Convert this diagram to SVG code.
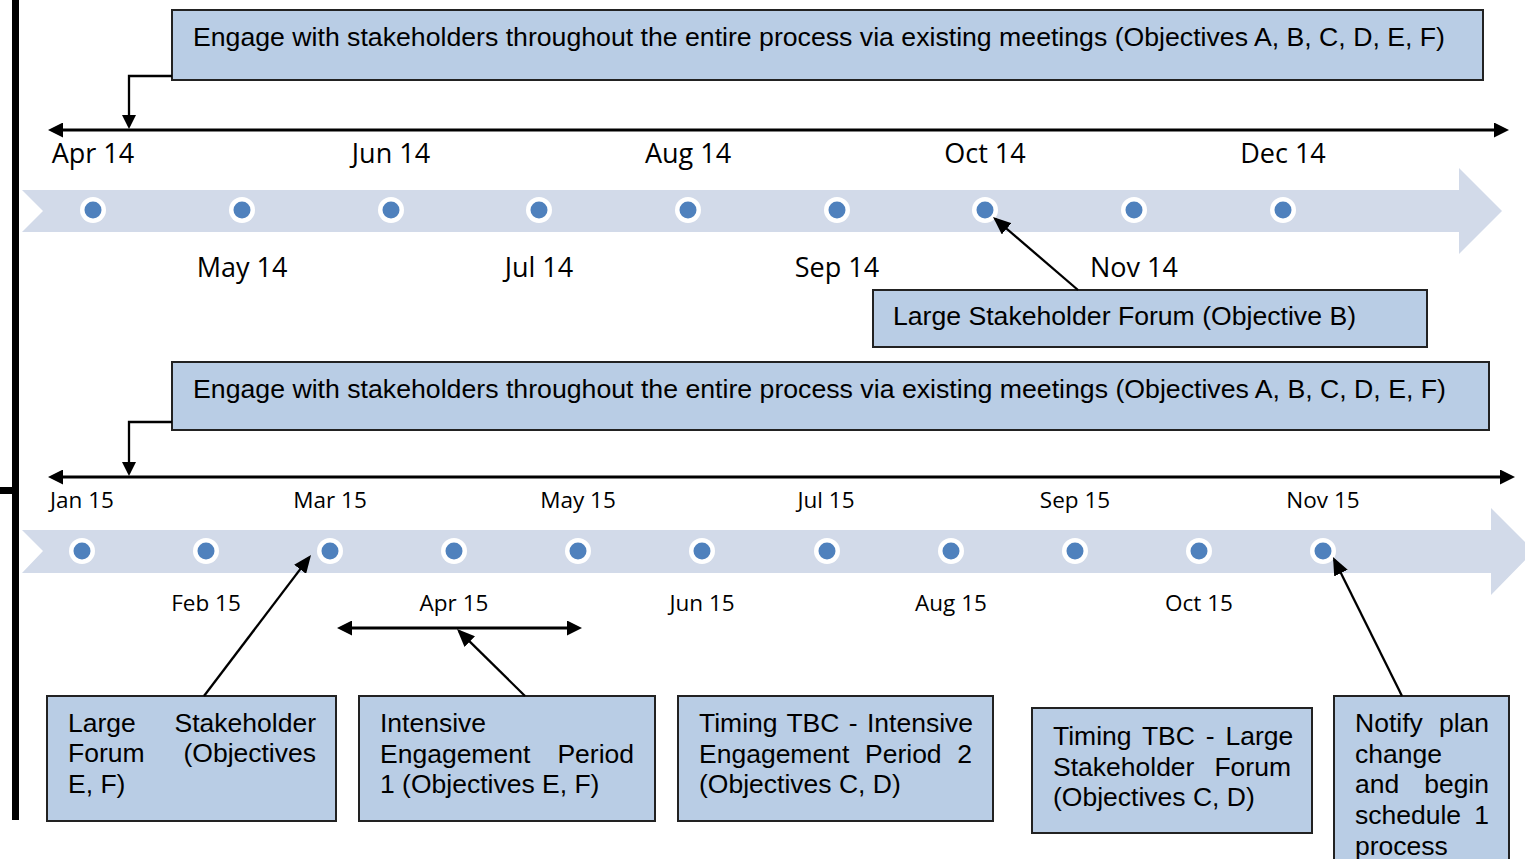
<svg xmlns="http://www.w3.org/2000/svg" width="1525" height="859" viewBox="0 0 1525 859">
  <style>
    .box { fill: #b9cde5; stroke: #222222; stroke-width: 2; }
    .band { fill: #d2dae9; }
    .ring { fill: #ffffff; }
    .dot { fill: #4f81bd; }
    .axis { stroke: #000000; stroke-width: 3.2; fill: none; }
    .conn { stroke: #000000; stroke-width: 2.3; fill: none; }
    .mon { font-family: "Open Sans", "Noto Sans", sans-serif; fill: #000000; text-anchor: middle; }
    .m1 { font-size: 27px; }
    .m2 { font-size: 22.5px; }
    .txt { font-family: "Liberation Sans", Arial, sans-serif; font-size: 26.5px; fill: #000000; }
    .end { text-anchor: end; }
  </style>
  <defs>
    <marker id="headAxis" markerUnits="userSpaceOnUse" markerWidth="15" markerHeight="15" refX="11" refY="7.5" orient="auto-start-reverse">
      <path d="M0,0 L15,7.5 L0,15 Z" fill="#000000"/>
    </marker>
    <marker id="headDrop" markerUnits="userSpaceOnUse" markerWidth="14" markerHeight="14" refX="11" refY="7" orient="auto">
      <path d="M0,0 L14,7 L0,14 Z" fill="#000000"/>
    </marker>
    <marker id="headPoint" markerUnits="userSpaceOnUse" markerWidth="18" markerHeight="15" refX="15" refY="7.5" orient="auto">
      <path d="M0,0 L18,7.5 L0,15 Z" fill="#000000"/>
    </marker>
  </defs>

  <!-- page frame bar on the left -->
  <g id="frame">
    <rect x="12" y="0" width="7" height="820" fill="#000000"/>
    <rect x="0" y="487" width="12" height="7" fill="#000000"/>
  </g>

  <!-- 2014 timeline -->
  <g id="timeline-2014">
    <path class="band" d="M22,190 L1459,190 L1459,168 L1502,211 L1459,254 L1459,232 L22,232 L43,211 Z"/>
    <g>
      <circle class="ring" cx="93" cy="210" r="13"/><circle class="dot" cx="93" cy="210" r="8.5"/>
      <circle class="ring" cx="242" cy="210" r="13"/><circle class="dot" cx="242" cy="210" r="8.5"/>
      <circle class="ring" cx="391" cy="210" r="13"/><circle class="dot" cx="391" cy="210" r="8.5"/>
      <circle class="ring" cx="539" cy="210" r="13"/><circle class="dot" cx="539" cy="210" r="8.5"/>
      <circle class="ring" cx="688" cy="210" r="13"/><circle class="dot" cx="688" cy="210" r="8.5"/>
      <circle class="ring" cx="837" cy="210" r="13"/><circle class="dot" cx="837" cy="210" r="8.5"/>
      <circle class="ring" cx="985" cy="210" r="13"/><circle class="dot" cx="985" cy="210" r="8.5"/>
      <circle class="ring" cx="1134" cy="210" r="13"/><circle class="dot" cx="1134" cy="210" r="8.5"/>
      <circle class="ring" cx="1283" cy="210" r="13"/><circle class="dot" cx="1283" cy="210" r="8.5"/>
    </g>
    <g class="mon m1">
      <text x="93" y="163">Apr 14</text>
      <text x="391" y="163">Jun 14</text>
      <text x="688" y="163">Aug 14</text>
      <text x="985" y="163">Oct 14</text>
      <text x="1283" y="163">Dec 14</text>
      <text x="242" y="277">May 14</text>
      <text x="539" y="277">Jul 14</text>
      <text x="837" y="277">Sep 14</text>
      <text x="1134" y="277">Nov 14</text>
    </g>
  </g>

  <!-- 2015 timeline -->
  <g id="timeline-2015">
    <path class="band" d="M22,530 L1491,530 L1491,508 L1534,551 L1491,595 L1491,573 L22,573 L43,551 Z"/>
    <g>
      <circle class="ring" cx="82" cy="551" r="13"/><circle class="dot" cx="82" cy="551" r="8.5"/>
      <circle class="ring" cx="206" cy="551" r="13"/><circle class="dot" cx="206" cy="551" r="8.5"/>
      <circle class="ring" cx="330" cy="551" r="13"/><circle class="dot" cx="330" cy="551" r="8.5"/>
      <circle class="ring" cx="454" cy="551" r="13"/><circle class="dot" cx="454" cy="551" r="8.5"/>
      <circle class="ring" cx="578" cy="551" r="13"/><circle class="dot" cx="578" cy="551" r="8.5"/>
      <circle class="ring" cx="702" cy="551" r="13"/><circle class="dot" cx="702" cy="551" r="8.5"/>
      <circle class="ring" cx="827" cy="551" r="13"/><circle class="dot" cx="827" cy="551" r="8.5"/>
      <circle class="ring" cx="951" cy="551" r="13"/><circle class="dot" cx="951" cy="551" r="8.5"/>
      <circle class="ring" cx="1075" cy="551" r="13"/><circle class="dot" cx="1075" cy="551" r="8.5"/>
      <circle class="ring" cx="1199" cy="551" r="13"/><circle class="dot" cx="1199" cy="551" r="8.5"/>
      <circle class="ring" cx="1323" cy="551" r="13"/><circle class="dot" cx="1323" cy="551" r="8.5"/>
    </g>
    <g class="mon m2">
      <text x="82" y="508">Jan 15</text>
      <text x="330" y="508">Mar 15</text>
      <text x="578" y="508">May 15</text>
      <text x="826" y="508">Jul 15</text>
      <text x="1075" y="508">Sep 15</text>
      <text x="1323" y="508">Nov 15</text>
      <text x="206" y="611">Feb 15</text>
      <text x="454" y="611">Apr 15</text>
      <text x="702" y="611">Jun 15</text>
      <text x="951" y="611">Aug 15</text>
      <text x="1199" y="611">Oct 15</text>
    </g>
  </g>

  <!-- nodes -->
  <g id="engage-2014">
    <rect class="box" x="172" y="10" width="1311" height="70"/>
    <text class="txt" x="193" y="46" textLength="1252" lengthAdjust="spacingAndGlyphs">Engage with stakeholders throughout the entire process via existing meetings (Objectives A, B, C, D, E, F)</text>
  </g>

  <g id="forum-2014">
    <rect class="box" x="873" y="290" width="554" height="57"/>
    <text class="txt" x="893" y="325" textLength="463" lengthAdjust="spacingAndGlyphs">Large Stakeholder Forum (Objective B)</text>
  </g>

  <g id="engage-2015">
    <rect class="box" x="172" y="362" width="1317" height="68"/>
    <text class="txt" x="193" y="398" textLength="1253" lengthAdjust="spacingAndGlyphs">Engage with stakeholders throughout the entire process via existing meetings (Objectives A, B, C, D, E, F)</text>
  </g>

  <g id="forum-ef">
    <rect class="box" x="47" y="696" width="289" height="125"/>
    <text class="txt" x="68" y="732">Large</text>
    <text class="txt end" x="316" y="732">Stakeholder</text>
    <text class="txt" x="68" y="762">Forum</text>
    <text class="txt end" x="316" y="762">(Objectives</text>
    <text class="txt" x="68" y="793">E, F)</text>
  </g>

  <g id="period-1">
    <rect class="box" x="359" y="696" width="296" height="125"/>
    <text class="txt" x="380" y="732">Intensive</text>
    <text class="txt" x="380" y="763">Engagement</text>
    <text class="txt end" x="634" y="763">Period</text>
    <text class="txt" x="380" y="793">1 (Objectives E, F)</text>
  </g>

  <g id="period-2">
    <rect class="box" x="678" y="696" width="315" height="125"/>
    <text class="txt" x="699" y="732" word-spacing="2">Timing TBC - Intensive</text>
    <text class="txt" x="699" y="763">Engagement</text>
    <text class="txt" x="865" y="763">Period</text>
    <text class="txt end" x="972" y="763">2</text>
    <text class="txt" x="699" y="793">(Objectives C, D)</text>
  </g>

  <g id="forum-cd">
    <rect class="box" x="1032" y="708" width="280" height="125"/>
    <text class="txt" x="1053" y="745" word-spacing="3.5">Timing TBC - Large</text>
    <text class="txt" x="1053" y="776">Stakeholder</text>
    <text class="txt end" x="1291" y="776">Forum</text>
    <text class="txt" x="1053" y="806">(Objectives C, D)</text>
  </g>

  <g id="notify">
    <rect class="box" x="1334" y="696" width="175" height="175"/>
    <text class="txt" x="1355" y="732">Notify</text>
    <text class="txt end" x="1489" y="732">plan</text>
    <text class="txt" x="1355" y="763">change</text>
    <text class="txt" x="1355" y="793">and</text>
    <text class="txt end" x="1489" y="793">begin</text>
    <text class="txt" x="1355" y="824">schedule</text>
    <text class="txt end" x="1489" y="824">1</text>
    <text class="txt" x="1355" y="855">process</text>
  </g>

  <!-- connectors -->
  <g id="connectors">
    <line class="axis" x1="52" y1="130" x2="1505" y2="130" marker-start="url(#headAxis)" marker-end="url(#headAxis)"/>
    <line class="axis" x1="52" y1="477" x2="1511" y2="477" marker-start="url(#headAxis)" marker-end="url(#headAxis)"/>
    <line class="axis" x1="341" y1="628" x2="578" y2="628" marker-start="url(#headAxis)" marker-end="url(#headAxis)"/>
    <polyline class="conn" points="172,76 129,76 129,126" marker-end="url(#headDrop)"/>
    <polyline class="conn" points="172,422 129,422 129,473" marker-end="url(#headDrop)"/>
    <line class="conn" x1="1078" y1="290" x2="995.3" y2="219" marker-end="url(#headPoint)"/>
    <line class="conn" x1="204" y1="696" x2="309.2" y2="557.4" marker-end="url(#headPoint)"/>
    <line class="conn" x1="525" y1="696" x2="459.1" y2="631.1" marker-end="url(#headPoint)"/>
    <line class="conn" x1="1402" y1="696" x2="1334.3" y2="559.7" marker-end="url(#headPoint)"/>
  </g>
</svg>
